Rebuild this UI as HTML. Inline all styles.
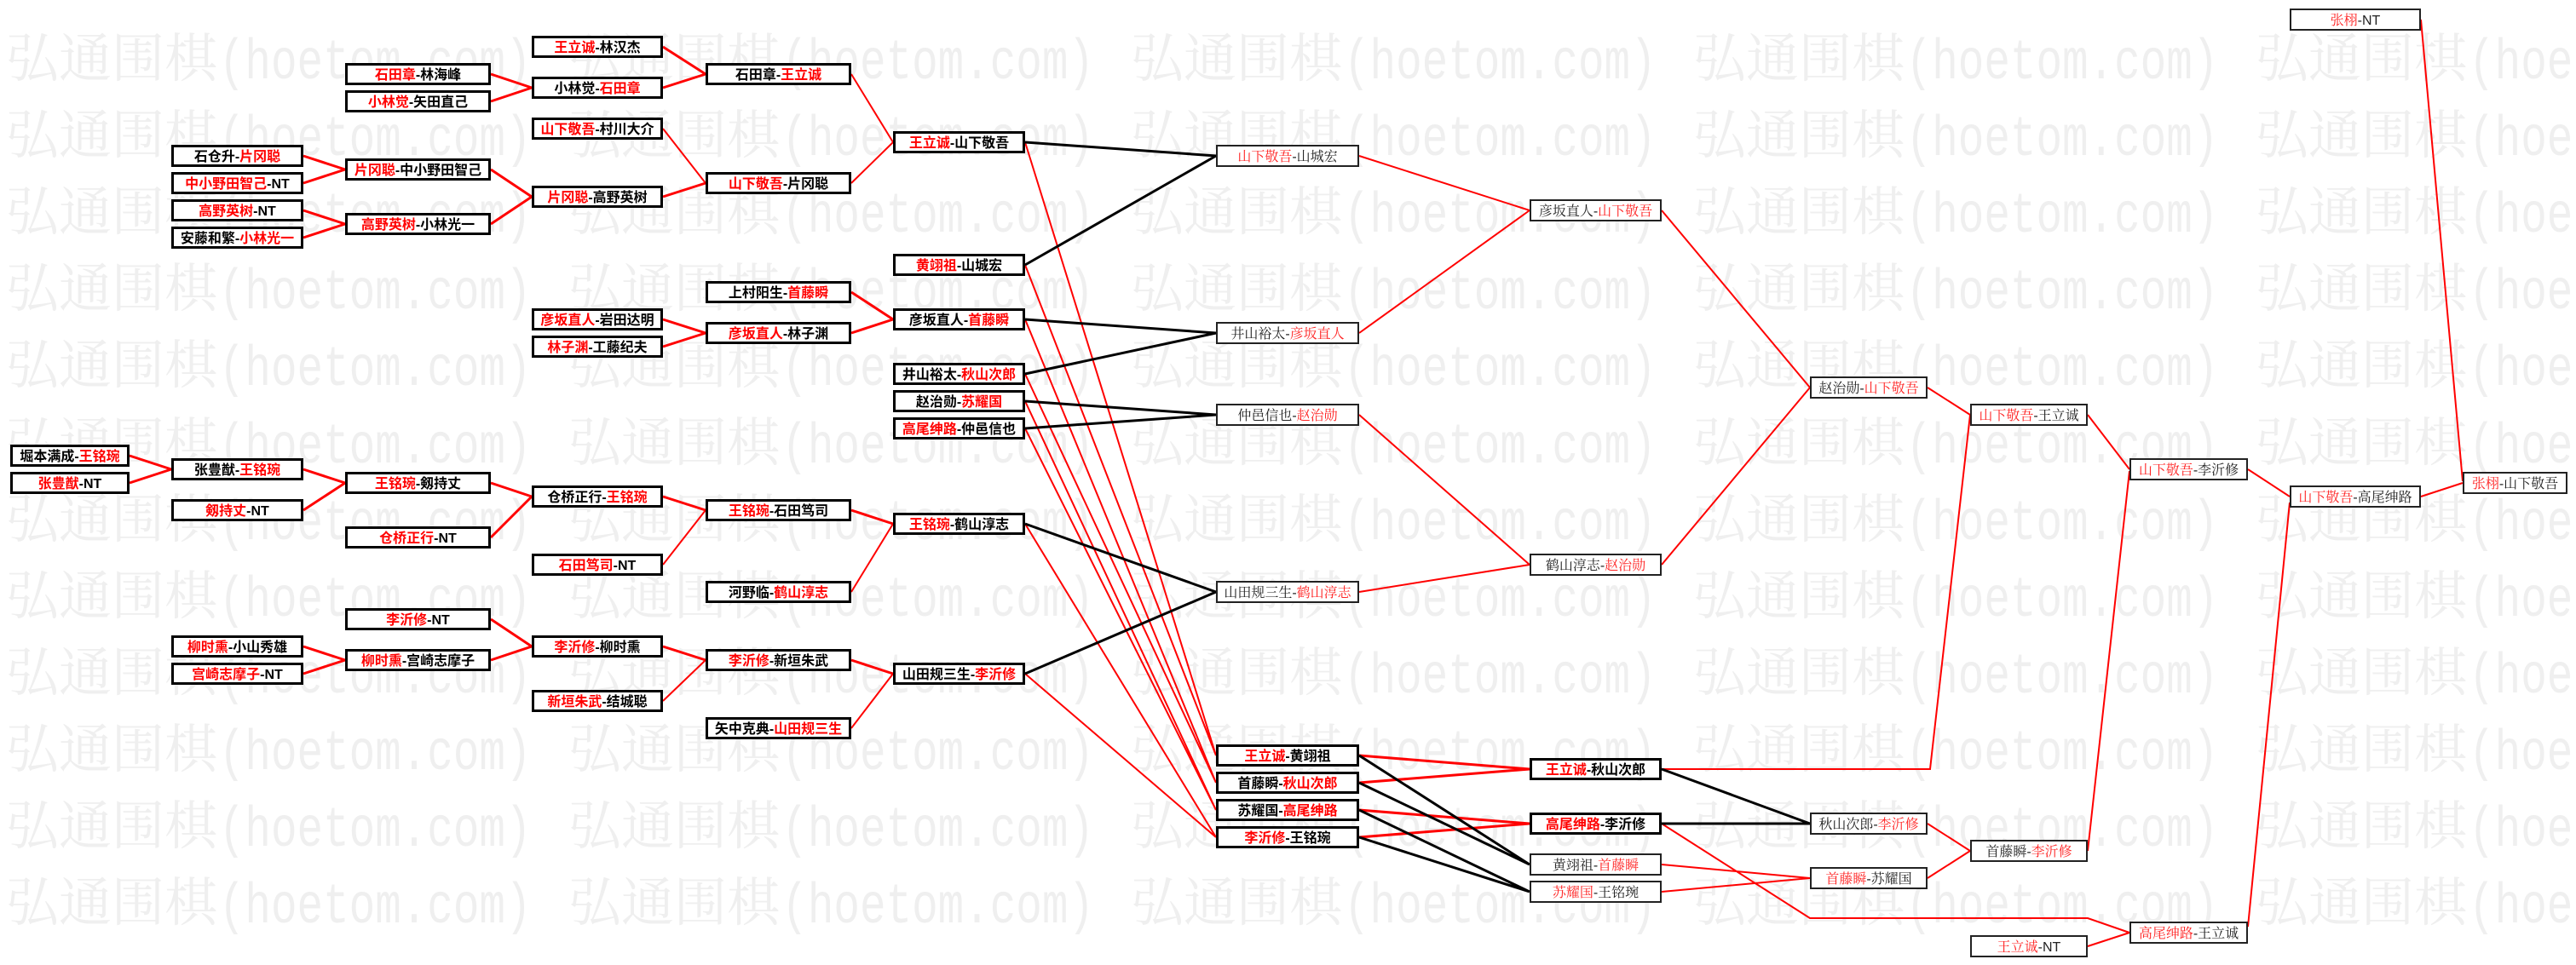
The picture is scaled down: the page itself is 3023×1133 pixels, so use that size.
<!DOCTYPE html>
<html>
<head>
<meta charset="utf-8">
<style>
html,body{margin:0;padding:0;background:#fff;}
body{width:3023px;height:1133px;overflow:hidden;}
svg{display:block;}
.wc{font-family:"Noto Serif CJK SC","Liberation Serif",serif;font-size:62px;fill:#efefef;}
.wl{font-family:"Liberation Mono","DejaVu Sans Mono",monospace;font-size:67px;fill:#efefef;}
rect.b{fill:#fff;stroke:#000;stroke-width:3;}
rect.t{fill:#fff;stroke:#222;stroke-width:2;}
text.b{font-family:"Liberation Sans","Noto Sans CJK SC",sans-serif;font-size:16px;font-weight:bold;fill:#000;text-anchor:middle;}
text.b tspan{fill:#f00;}
text.t{font-family:"Liberation Sans","Noto Serif CJK SC",serif;font-size:16px;fill:#222;text-anchor:middle;}
text.t tspan{fill:#f22;}
</style>
</head>
<body>
<svg width="3023" height="1133" viewBox="0 0 3023 1133" xmlns="http://www.w3.org/2000/svg">
<rect x="0" y="0" width="3023" height="1133" fill="#fff"/>
<!-- watermark -->
<g>
<text class="wc" y="90"><tspan x="7">弘通围棋</tspan><tspan x="667">弘通围棋</tspan><tspan x="1327">弘通围棋</tspan><tspan x="1987">弘通围棋</tspan><tspan x="2647">弘通围棋</tspan></text>
<text class="wc" y="180"><tspan x="7">弘通围棋</tspan><tspan x="667">弘通围棋</tspan><tspan x="1327">弘通围棋</tspan><tspan x="1987">弘通围棋</tspan><tspan x="2647">弘通围棋</tspan></text>
<text class="wc" y="270"><tspan x="7">弘通围棋</tspan><tspan x="667">弘通围棋</tspan><tspan x="1327">弘通围棋</tspan><tspan x="1987">弘通围棋</tspan><tspan x="2647">弘通围棋</tspan></text>
<text class="wc" y="360"><tspan x="7">弘通围棋</tspan><tspan x="667">弘通围棋</tspan><tspan x="1327">弘通围棋</tspan><tspan x="1987">弘通围棋</tspan><tspan x="2647">弘通围棋</tspan></text>
<text class="wc" y="450"><tspan x="7">弘通围棋</tspan><tspan x="667">弘通围棋</tspan><tspan x="1327">弘通围棋</tspan><tspan x="1987">弘通围棋</tspan><tspan x="2647">弘通围棋</tspan></text>
<text class="wc" y="541"><tspan x="7">弘通围棋</tspan><tspan x="667">弘通围棋</tspan><tspan x="1327">弘通围棋</tspan><tspan x="1987">弘通围棋</tspan><tspan x="2647">弘通围棋</tspan></text>
<text class="wc" y="631"><tspan x="7">弘通围棋</tspan><tspan x="667">弘通围棋</tspan><tspan x="1327">弘通围棋</tspan><tspan x="1987">弘通围棋</tspan><tspan x="2647">弘通围棋</tspan></text>
<text class="wc" y="721"><tspan x="7">弘通围棋</tspan><tspan x="667">弘通围棋</tspan><tspan x="1327">弘通围棋</tspan><tspan x="1987">弘通围棋</tspan><tspan x="2647">弘通围棋</tspan></text>
<text class="wc" y="811"><tspan x="7">弘通围棋</tspan><tspan x="667">弘通围棋</tspan><tspan x="1327">弘通围棋</tspan><tspan x="1987">弘通围棋</tspan><tspan x="2647">弘通围棋</tspan></text>
<text class="wc" y="901"><tspan x="7">弘通围棋</tspan><tspan x="667">弘通围棋</tspan><tspan x="1327">弘通围棋</tspan><tspan x="1987">弘通围棋</tspan><tspan x="2647">弘通围棋</tspan></text>
<text class="wc" y="991"><tspan x="7">弘通围棋</tspan><tspan x="667">弘通围棋</tspan><tspan x="1327">弘通围棋</tspan><tspan x="1987">弘通围棋</tspan><tspan x="2647">弘通围棋</tspan></text>
<text class="wc" y="1081"><tspan x="7">弘通围棋</tspan><tspan x="667">弘通围棋</tspan><tspan x="1327">弘通围棋</tspan><tspan x="1987">弘通围棋</tspan><tspan x="2647">弘通围棋</tspan></text>
</g>
<g transform="scale(0.76,1)">
<text class="wl" y="92"><tspan x="338">(hoetom.com)</tspan><tspan x="1207">(hoetom.com)</tspan><tspan x="2075">(hoetom.com)</tspan><tspan x="2943">(hoetom.com)</tspan><tspan x="3812">(hoetom.com)</tspan></text>
<text class="wl" y="182"><tspan x="338">(hoetom.com)</tspan><tspan x="1207">(hoetom.com)</tspan><tspan x="2075">(hoetom.com)</tspan><tspan x="2943">(hoetom.com)</tspan><tspan x="3812">(hoetom.com)</tspan></text>
<text class="wl" y="272"><tspan x="338">(hoetom.com)</tspan><tspan x="1207">(hoetom.com)</tspan><tspan x="2075">(hoetom.com)</tspan><tspan x="2943">(hoetom.com)</tspan><tspan x="3812">(hoetom.com)</tspan></text>
<text class="wl" y="362"><tspan x="338">(hoetom.com)</tspan><tspan x="1207">(hoetom.com)</tspan><tspan x="2075">(hoetom.com)</tspan><tspan x="2943">(hoetom.com)</tspan><tspan x="3812">(hoetom.com)</tspan></text>
<text class="wl" y="452"><tspan x="338">(hoetom.com)</tspan><tspan x="1207">(hoetom.com)</tspan><tspan x="2075">(hoetom.com)</tspan><tspan x="2943">(hoetom.com)</tspan><tspan x="3812">(hoetom.com)</tspan></text>
<text class="wl" y="543"><tspan x="338">(hoetom.com)</tspan><tspan x="1207">(hoetom.com)</tspan><tspan x="2075">(hoetom.com)</tspan><tspan x="2943">(hoetom.com)</tspan><tspan x="3812">(hoetom.com)</tspan></text>
<text class="wl" y="633"><tspan x="338">(hoetom.com)</tspan><tspan x="1207">(hoetom.com)</tspan><tspan x="2075">(hoetom.com)</tspan><tspan x="2943">(hoetom.com)</tspan><tspan x="3812">(hoetom.com)</tspan></text>
<text class="wl" y="723"><tspan x="338">(hoetom.com)</tspan><tspan x="1207">(hoetom.com)</tspan><tspan x="2075">(hoetom.com)</tspan><tspan x="2943">(hoetom.com)</tspan><tspan x="3812">(hoetom.com)</tspan></text>
<text class="wl" y="813"><tspan x="338">(hoetom.com)</tspan><tspan x="1207">(hoetom.com)</tspan><tspan x="2075">(hoetom.com)</tspan><tspan x="2943">(hoetom.com)</tspan><tspan x="3812">(hoetom.com)</tspan></text>
<text class="wl" y="903"><tspan x="338">(hoetom.com)</tspan><tspan x="1207">(hoetom.com)</tspan><tspan x="2075">(hoetom.com)</tspan><tspan x="2943">(hoetom.com)</tspan><tspan x="3812">(hoetom.com)</tspan></text>
<text class="wl" y="993"><tspan x="338">(hoetom.com)</tspan><tspan x="1207">(hoetom.com)</tspan><tspan x="2075">(hoetom.com)</tspan><tspan x="2943">(hoetom.com)</tspan><tspan x="3812">(hoetom.com)</tspan></text>
<text class="wl" y="1083"><tspan x="338">(hoetom.com)</tspan><tspan x="1207">(hoetom.com)</tspan><tspan x="2075">(hoetom.com)</tspan><tspan x="2943">(hoetom.com)</tspan><tspan x="3812">(hoetom.com)</tspan></text>
</g>

<!-- connectors -->
<path fill="none" stroke="#f00" stroke-width="3" d="
M152,535L201,551 M152,567L201,551
M356,183L405,199 M356,215L405,199 M356,247L405,263 M356,279L405,263 M356,551L405,567 M356,599L405,567 M356,759L405,775 M356,791L405,775
M576,87L624,103 M576,119L624,103 M576,199L624,231 M576,263L624,231 M576,567L624,583 M576,631L624,583 M576,727L624,759 M576,775L624,759
M778,55L828,87 M778,103L828,87 M778,231L828,215 M778,375L828,391 M778,407L828,391 M778,583L828,599 M778,759L828,775
M999,343L1048,375 M999,391L1048,375 M999,599L1048,615 M999,775L1048,791
M1595,887L1795,903 M1595,919L1795,903 M1595,951L1795,967 M1595,983L1795,967"/>
<path fill="none" stroke="#f00" stroke-width="2" d="
M778,151L828,215 M778,663L828,599 M778,823L828,775
M999,87L1048,167 M999,215L1048,167 M999,695L1048,615 M999,855L1048,791
M1203,167L1427,887 M1203,311L1427,887 M1203,375L1427,919 M1203,439L1427,919 M1203,471L1427,951 M1203,503L1427,951 M1203,615L1427,983 M1203,791L1427,983
M1595,183L1795,247 M1595,391L1795,247 M1595,487L1795,663 M1595,695L1795,663
M1950,247L2124,455 M1950,663L2124,455
M1950,1015L2124,1031 M1950,1047L2124,1031
M1950,903L2265,903L2312,487
M1950,967L2124,1078L2450,1078L2499,1095
M2262,455L2312,487 M2262,967L2312,999 M2262,1031L2312,999
M2450,487L2499,551 M2450,999L2499,553 M2450,1111L2499,1095
M2638,551L2687,583 M2638,1088L2687,590
M2841,23L2890,565 M2841,583L2890,567"/>
<path fill="none" stroke="#000" stroke-width="3" d="
M1203,167L1427,183 M1203,311L1427,183 M1203,375L1427,391 M1203,439L1427,391 M1203,471L1427,487 M1203,503L1427,487 M1203,615L1427,695 M1203,791L1427,695
M1595,887L1795,1015 M1595,919L1795,1015 M1595,951L1795,1047 M1595,983L1795,1047
M1950,903L2124,967 M1950,967L2124,967"/>

<!-- Column 1 -->
<rect class="b" x="13.5" y="523.5" width="137" height="23"/><text class="b" x="82" y="541">堀本满成-<tspan>王铭琬</tspan></text>
<rect class="b" x="13.5" y="555.5" width="137" height="23"/><text class="b" x="82" y="573"><tspan>张豊猷</tspan>-NT</text>

<!-- Column 2 -->
<rect class="b" x="202.5" y="171.5" width="152" height="23"/><text class="b" x="278.5" y="189">石仓升-<tspan>片冈聪</tspan></text>
<rect class="b" x="202.5" y="203.5" width="152" height="23"/><text class="b" x="278.5" y="221"><tspan>中小野田智己</tspan>-NT</text>
<rect class="b" x="202.5" y="235.5" width="152" height="23"/><text class="b" x="278.5" y="253"><tspan>高野英树</tspan>-NT</text>
<rect class="b" x="202.5" y="267.5" width="152" height="23"/><text class="b" x="278.5" y="285">安藤和繁-<tspan>小林光一</tspan></text>
<rect class="b" x="202.5" y="539.5" width="152" height="23"/><text class="b" x="278.5" y="557">张豊猷-<tspan>王铭琬</tspan></text>
<rect class="b" x="202.5" y="587.5" width="152" height="23"/><text class="b" x="278.5" y="605"><tspan>剱持丈</tspan>-NT</text>
<rect class="b" x="202.5" y="747.5" width="152" height="23"/><text class="b" x="278.5" y="765"><tspan>柳时熏</tspan>-小山秀雄</text>
<rect class="b" x="202.5" y="779.5" width="152" height="23"/><text class="b" x="278.5" y="797"><tspan>宫崎志摩子</tspan>-NT</text>

<!-- Column 3 -->
<rect class="b" x="406.5" y="75.5" width="168" height="23"/><text class="b" x="490.5" y="93"><tspan>石田章</tspan>-林海峰</text>
<rect class="b" x="406.5" y="107.5" width="168" height="23"/><text class="b" x="490.5" y="125"><tspan>小林觉</tspan>-矢田直己</text>
<rect class="b" x="406.5" y="187.5" width="168" height="23"/><text class="b" x="490.5" y="205"><tspan>片冈聪</tspan>-中小野田智己</text>
<rect class="b" x="406.5" y="251.5" width="168" height="23"/><text class="b" x="490.5" y="269"><tspan>高野英树</tspan>-小林光一</text>
<rect class="b" x="406.5" y="555.5" width="168" height="23"/><text class="b" x="490.5" y="573"><tspan>王铭琬</tspan>-剱持丈</text>
<rect class="b" x="406.5" y="619.5" width="168" height="23"/><text class="b" x="490.5" y="637"><tspan>仓桥正行</tspan>-NT</text>
<rect class="b" x="406.5" y="715.5" width="168" height="23"/><text class="b" x="490.5" y="733"><tspan>李沂修</tspan>-NT</text>
<rect class="b" x="406.5" y="763.5" width="168" height="23"/><text class="b" x="490.5" y="781"><tspan>柳时熏</tspan>-宫崎志摩子</text>

<!-- Column 4 -->
<rect class="b" x="625.5" y="43.5" width="151" height="23"/><text class="b" x="701" y="61"><tspan>王立诚</tspan>-林汉杰</text>
<rect class="b" x="625.5" y="91.5" width="151" height="23"/><text class="b" x="701" y="109">小林觉-<tspan>石田章</tspan></text>
<rect class="b" x="625.5" y="139.5" width="151" height="23"/><text class="b" x="701" y="157"><tspan>山下敬吾</tspan>-村川大介</text>
<rect class="b" x="625.5" y="219.5" width="151" height="23"/><text class="b" x="701" y="237"><tspan>片冈聪</tspan>-高野英树</text>
<rect class="b" x="625.5" y="363.5" width="151" height="23"/><text class="b" x="701" y="381"><tspan>彦坂直人</tspan>-岩田达明</text>
<rect class="b" x="625.5" y="395.5" width="151" height="23"/><text class="b" x="701" y="413"><tspan>林子渊</tspan>-工藤纪夫</text>
<rect class="b" x="625.5" y="571.5" width="151" height="23"/><text class="b" x="701" y="589">仓桥正行-<tspan>王铭琬</tspan></text>
<rect class="b" x="625.5" y="651.5" width="151" height="23"/><text class="b" x="701" y="669"><tspan>石田笃司</tspan>-NT</text>
<rect class="b" x="625.5" y="747.5" width="151" height="23"/><text class="b" x="701" y="765"><tspan>李沂修</tspan>-柳时熏</text>
<rect class="b" x="625.5" y="811.5" width="151" height="23"/><text class="b" x="701" y="829"><tspan>新垣朱武</tspan>-结城聪</text>

<!-- Column 5 -->
<rect class="b" x="829.5" y="75.5" width="168" height="23"/><text class="b" x="913.5" y="93">石田章-<tspan>王立诚</tspan></text>
<rect class="b" x="829.5" y="203.5" width="168" height="23"/><text class="b" x="913.5" y="221"><tspan>山下敬吾</tspan>-片冈聪</text>
<rect class="b" x="829.5" y="331.5" width="168" height="23"/><text class="b" x="913.5" y="349">上村阳生-<tspan>首藤瞬</tspan></text>
<rect class="b" x="829.5" y="379.5" width="168" height="23"/><text class="b" x="913.5" y="397"><tspan>彦坂直人</tspan>-林子渊</text>
<rect class="b" x="829.5" y="587.5" width="168" height="23"/><text class="b" x="913.5" y="605"><tspan>王铭琬</tspan>-石田笃司</text>
<rect class="b" x="829.5" y="683.5" width="168" height="23"/><text class="b" x="913.5" y="701">河野临-<tspan>鹤山淳志</tspan></text>
<rect class="b" x="829.5" y="763.5" width="168" height="23"/><text class="b" x="913.5" y="781"><tspan>李沂修</tspan>-新垣朱武</text>
<rect class="b" x="829.5" y="843.5" width="168" height="23"/><text class="b" x="913.5" y="861">矢中克典-<tspan>山田规三生</tspan></text>

<!-- Column 6 -->
<rect class="b" x="1049.5" y="155.5" width="152" height="23"/><text class="b" x="1125.5" y="173"><tspan>王立诚</tspan>-山下敬吾</text>
<rect class="b" x="1049.5" y="299.5" width="152" height="23"/><text class="b" x="1125.5" y="317"><tspan>黄翊祖</tspan>-山城宏</text>
<rect class="b" x="1049.5" y="363.5" width="152" height="23"/><text class="b" x="1125.5" y="381">彦坂直人-<tspan>首藤瞬</tspan></text>
<rect class="b" x="1049.5" y="427.5" width="152" height="23"/><text class="b" x="1125.5" y="445">井山裕太-<tspan>秋山次郎</tspan></text>
<rect class="b" x="1049.5" y="459.5" width="152" height="23"/><text class="b" x="1125.5" y="477">赵治勋-<tspan>苏耀国</tspan></text>
<rect class="b" x="1049.5" y="491.5" width="152" height="23"/><text class="b" x="1125.5" y="509"><tspan>高尾绅路</tspan>-仲邑信也</text>
<rect class="b" x="1049.5" y="603.5" width="152" height="23"/><text class="b" x="1125.5" y="621"><tspan>王铭琬</tspan>-鹤山淳志</text>
<rect class="b" x="1049.5" y="779.5" width="152" height="23"/><text class="b" x="1125.5" y="797">山田规三生-<tspan>李沂修</tspan></text>

<!-- Column 7 -->
<rect class="t" x="1428" y="171" width="166" height="24"/><text class="t" x="1511" y="189"><tspan>山下敬吾</tspan>-山城宏</text>
<rect class="t" x="1428" y="379" width="166" height="24"/><text class="t" x="1511" y="397">井山裕太-<tspan>彦坂直人</tspan></text>
<rect class="t" x="1428" y="475" width="166" height="24"/><text class="t" x="1511" y="493">仲邑信也-<tspan>赵治勋</tspan></text>
<rect class="t" x="1428" y="683" width="166" height="24"/><text class="t" x="1511" y="701">山田规三生-<tspan>鹤山淳志</tspan></text>
<rect class="b" x="1428.5" y="875.5" width="165" height="23"/><text class="b" x="1511" y="893"><tspan>王立诚</tspan>-黄翊祖</text>
<rect class="b" x="1428.5" y="907.5" width="165" height="23"/><text class="b" x="1511" y="925">首藤瞬-<tspan>秋山次郎</tspan></text>
<rect class="b" x="1428.5" y="939.5" width="165" height="23"/><text class="b" x="1511" y="957">苏耀国-<tspan>高尾绅路</tspan></text>
<rect class="b" x="1428.5" y="971.5" width="165" height="23"/><text class="b" x="1511" y="989"><tspan>李沂修</tspan>-王铭琬</text>

<!-- Column 8 -->
<rect class="t" x="1796" y="235" width="153" height="24"/><text class="t" x="1872.5" y="253">彦坂直人-<tspan>山下敬吾</tspan></text>
<rect class="t" x="1796" y="651" width="153" height="24"/><text class="t" x="1872.5" y="669">鹤山淳志-<tspan>赵治勋</tspan></text>
<rect class="b" x="1796.5" y="891.5" width="152" height="23"/><text class="b" x="1872.5" y="909"><tspan>王立诚</tspan>-秋山次郎</text>
<rect class="b" x="1796.5" y="955.5" width="152" height="23"/><text class="b" x="1872.5" y="973"><tspan>高尾绅路</tspan>-李沂修</text>
<rect class="t" x="1796" y="1003" width="153" height="24"/><text class="t" x="1872.5" y="1021">黄翊祖-<tspan>首藤瞬</tspan></text>
<rect class="t" x="1796" y="1035" width="153" height="24"/><text class="t" x="1872.5" y="1053"><tspan>苏耀国</tspan>-王铭琬</text>

<!-- Column 9 -->
<rect class="t" x="2125" y="443" width="136" height="24"/><text class="t" x="2193" y="461">赵治勋-<tspan>山下敬吾</tspan></text>
<rect class="t" x="2125" y="955" width="136" height="24"/><text class="t" x="2193" y="973">秋山次郎-<tspan>李沂修</tspan></text>
<rect class="t" x="2125" y="1019" width="136" height="24"/><text class="t" x="2193" y="1037"><tspan>首藤瞬</tspan>-苏耀国</text>

<!-- Column 10 -->
<rect class="t" x="2313" y="475" width="136" height="24"/><text class="t" x="2381" y="493"><tspan>山下敬吾</tspan>-王立诚</text>
<rect class="t" x="2313" y="987" width="136" height="24"/><text class="t" x="2381" y="1005">首藤瞬-<tspan>李沂修</tspan></text>
<rect class="t" x="2313" y="1099" width="136" height="24"/><text class="t" x="2381" y="1117"><tspan>王立诚</tspan>-NT</text>

<!-- Column 11 -->
<rect class="t" x="2500" y="539" width="137" height="24"/><text class="t" x="2568.5" y="557"><tspan>山下敬吾</tspan>-李沂修</text>
<rect class="t" x="2500" y="1083" width="137" height="24"/><text class="t" x="2568.5" y="1101"><tspan>高尾绅路</tspan>-王立诚</text>

<!-- Column 12 -->
<rect class="t" x="2688" y="11" width="152" height="24"/><text class="t" x="2764" y="29"><tspan>张栩</tspan>-NT</text>
<rect class="t" x="2688" y="571" width="152" height="24"/><text class="t" x="2764" y="589"><tspan>山下敬吾</tspan>-高尾绅路</text>

<!-- Column 13 -->
<rect class="t" x="2891" y="555" width="121" height="24"/><text class="t" x="2951.5" y="573"><tspan>张栩</tspan>-山下敬吾</text>
</svg>
</body>
</html>
